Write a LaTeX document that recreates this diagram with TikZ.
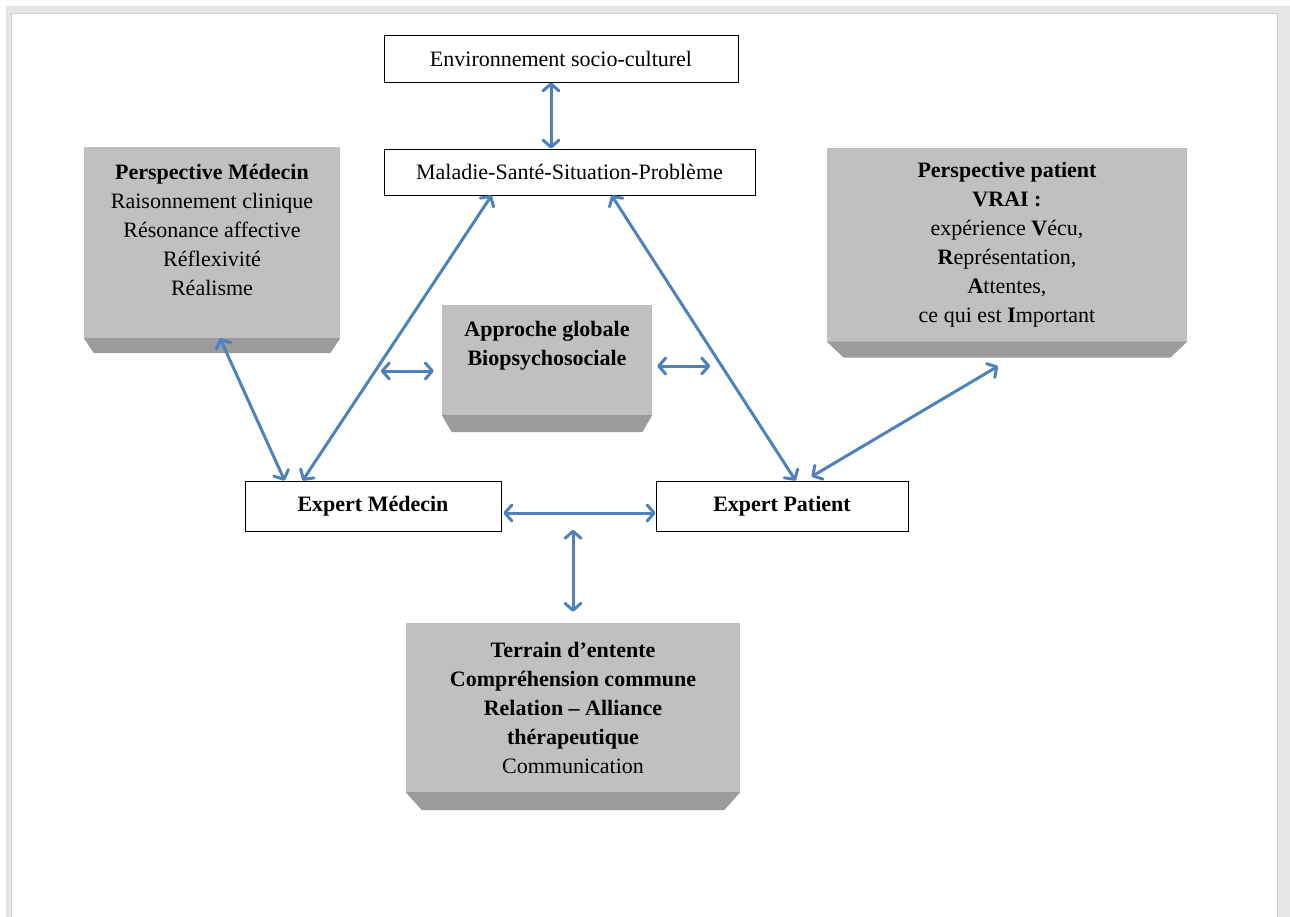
\documentclass[tikz,border=0pt]{standalone}
\usepackage{fontspec}
\setmainfont{Liberation Serif}
\usepackage{tikz}
\usetikzlibrary{arrows.meta}
\definecolor{arrowblue}{RGB}{79,129,189}
\definecolor{facegray}{RGB}{192,192,192}
\definecolor{bevelgray}{RGB}{155,155,155}
\definecolor{pagegray}{RGB}{230,230,230}
\definecolor{edgegray}{RGB}{208,208,208}
\tikzstyle{rec} = [rectangle, draw=black, line width=0.8pt, fill=white, text centered, font=\fontsize{22}{29}\selectfont]
\tikzstyle{shade} = [rectangle, fill=facegray, inner sep=0pt, align=center, font=\fontsize{22}{29}\selectfont]
\tikzstyle{darrow} = [draw=arrowblue, line width=3pt, <->, >={Straight Barb[length=7pt,width=16pt,round]}]
\newcommand{\lift}[1]{\rule[-#1]{0pt}{0pt}}

\begin{document}
\begin{tikzpicture}[x=1pt, y=-1pt]
    \useasboundingbox (0,0) rectangle (1290,917);
    % page frame
    \fill[pagegray] (6,6) rectangle (1290,917);
    \fill[white] (12,14) rectangle (1277,917);
    \draw[edgegray, line width=1pt] (11.5,917) -- (11.5,13.5) -- (1277.5,13.5) -- (1277.5,917);

    \node (env) [rec, minimum width=354pt, minimum height=47pt] at (561,58.5) {Environnement socio-culturel};
    \node (mal) [rec, minimum width=371pt, minimum height=46pt] at (569.5,172) {Maladie-Santé-Situation-Problème};
    \node (expmed) [rec, minimum width=256pt, minimum height=50pt] at (373,506) {\textbf{Expert Médecin}};
    \node (exppat) [rec, minimum width=252pt, minimum height=50pt] at (782,506) {\textbf{Expert Patient}};

    \node (persmed) [shade, minimum width=256pt, minimum height=191pt] at (212,242.5)
        {\textbf{Perspective Médecin}\\ Raisonnement clinique\\ Résonance affective\\ Réflexivité\\ Réalisme\lift{26pt}};
    \node (approche) [shade, minimum width=210pt, minimum height=110pt] at (547,360)
        {\textbf{Approche globale}\\ \textbf{Biopsychosociale}\lift{33pt}};
    \node (perspat) [shade, minimum width=360pt, minimum height=193pt] at (1007,245)
        {\textbf{Perspective patient}\\ \textbf{VRAI :}\\ expérience \textbf{V}écu,\\ \textbf{R}eprésentation,\\ \textbf{A}ttentes,\\ ce qui est \textbf{I}mportant};
    \node (terrain) [shade, minimum width=334pt, minimum height=169pt] at (573,707.5)
        {\textbf{Terrain d’entente}\\ \textbf{Compréhension commune}\\ \textbf{Relation – Alliance}\\ \textbf{thérapeutique}\\ Communication};

    % bevels under the grey boxes
    \foreach \n/\d/\i in {persmed/15/10, approche/17/10, perspat/16/17, terrain/18/16}
        \fill[bevelgray] (\n.south west) -- (\n.south east) -- ([xshift=-\i, yshift=-\d]\n.south east) -- ([xshift=\i, yshift=-\d]\n.south west) -- cycle;

    \draw [darrow] ([xshift=-10pt]env.south) -- ([xshift=-18.5pt]mal.north);
    \draw [darrow] ([xshift=108pt]mal.south west) -- ([xshift=58pt]expmed.north west);
    \draw [darrow] ([xshift=228pt]mal.south west) -- ([xshift=140pt]exppat.north west);
    \draw [darrow] ([xshift=8pt]persmed.south) -- ([xshift=40pt]expmed.north west);
    \draw [darrow] ([xshift=-9pt,yshift=-24.5pt]perspat.south) -- ([xshift=156pt,yshift=4pt]exppat.north west);
    \draw [darrow] ([xshift=-61pt,yshift=-11pt]approche.west) -- ([xshift=-8pt,yshift=-11pt]approche.west);
    \draw [darrow] ([xshift=5pt,yshift=-6pt]approche.east) -- ([xshift=58pt,yshift=-6pt]approche.east);
    \draw [darrow] ([xshift=2pt,yshift=-7pt]expmed.east) -- ([yshift=-7pt]exppat.west);
    \draw [darrow] ([yshift=93pt]terrain.north) -- ([yshift=11pt]terrain.north);
\end{tikzpicture}
\end{document}
